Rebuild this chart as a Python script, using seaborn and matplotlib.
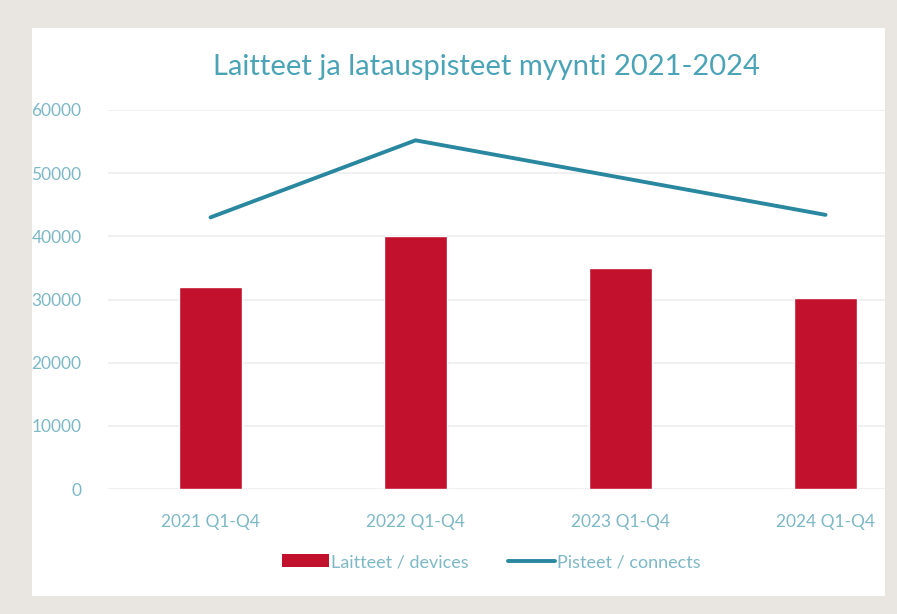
import matplotlib
matplotlib.use("Agg")
import matplotlib.pyplot as plt
from matplotlib.lines import Line2D
from matplotlib.patches import Patch
import seaborn as sns
import pandas as pd

categories = ["2021 Q1-Q4", "2022 Q1-Q4", "2023 Q1-Q4", "2024 Q1-Q4"]
devices = [32000, 40000, 35000, 30200]
connects = [43000, 55200, 49300, 43400]
yticks = [0, 10000, 20000, 30000, 40000, 50000, 60000]

sns.set_theme(style="white")
plt.rcParams['font.family'] = ['Lato', 'DejaVu Sans']

W, H = 897, 614
fig = plt.figure(figsize=(W/100, H/100), dpi=100, facecolor="#e9e5e0")
bg = fig.add_axes([32/W, (H-596)/H, (885-32)/W, (596-28)/H], zorder=-5)
bg.set_facecolor("white")
bg.set_xticks([]); bg.set_yticks([])
for s in bg.spines.values():
    s.set_visible(False)

ax = fig.add_axes([108/W, (H-489)/H, (885-108)/W, (489-110)/H], zorder=1)
ax.set_facecolor("none")

df = pd.DataFrame({"cat": categories, "devices": devices, "connects": connects})
bar_col = "#c1112c"
line_col = "#2a87a0"
tick_col = "#7db8c6"

sns.barplot(data=df, x="cat", y="devices", color=bar_col, width=0.31,
            saturation=1, ax=ax, zorder=3)
sns.lineplot(data=df, x="cat", y="connects", color=line_col, linewidth=2.8,
             sort=False, ax=ax, zorder=4)

ax.set_xlim(-0.5, 3.29)
ax.set_ylim(0, 60000)
ax.set_yticks(yticks)
ax.set_yticklabels([str(v) for v in yticks])
ax.yaxis.grid(True, color="#eeeeee", linewidth=1.2, zorder=0)
ax.set_axisbelow(True)
ax.xaxis.grid(False)
for s in ax.spines.values():
    s.set_visible(False)
ax.tick_params(axis="both", length=0, labelsize=12.5, colors=tick_col)
ax.tick_params(axis="y", pad=19)
ax.tick_params(axis="x", pad=18)
ax.set_xlabel("")
ax.set_ylabel("")

fig.text(486/W, 1-67/H, "Laitteet ja latauspisteet myynti 2021-2024",
         ha="center", va="center", fontsize=21, color="#4ba3b6")

handles = [Patch(facecolor=bar_col, edgecolor="none"),
           Line2D([0], [0], color=line_col, linewidth=2.8)]
leg = fig.legend(handles, ["Laitteet / devices", "Pisteet / connects"],
                 loc="center", bbox_to_anchor=(491/W, 1-562/H), ncol=2,
                 frameon=False, fontsize=13, handlelength=2.6,
                 handletextpad=0.1, columnspacing=2.2)
for t in leg.get_texts():
    t.set_color(tick_col)

fig.savefig("out.png", dpi=100, facecolor=fig.get_facecolor())
